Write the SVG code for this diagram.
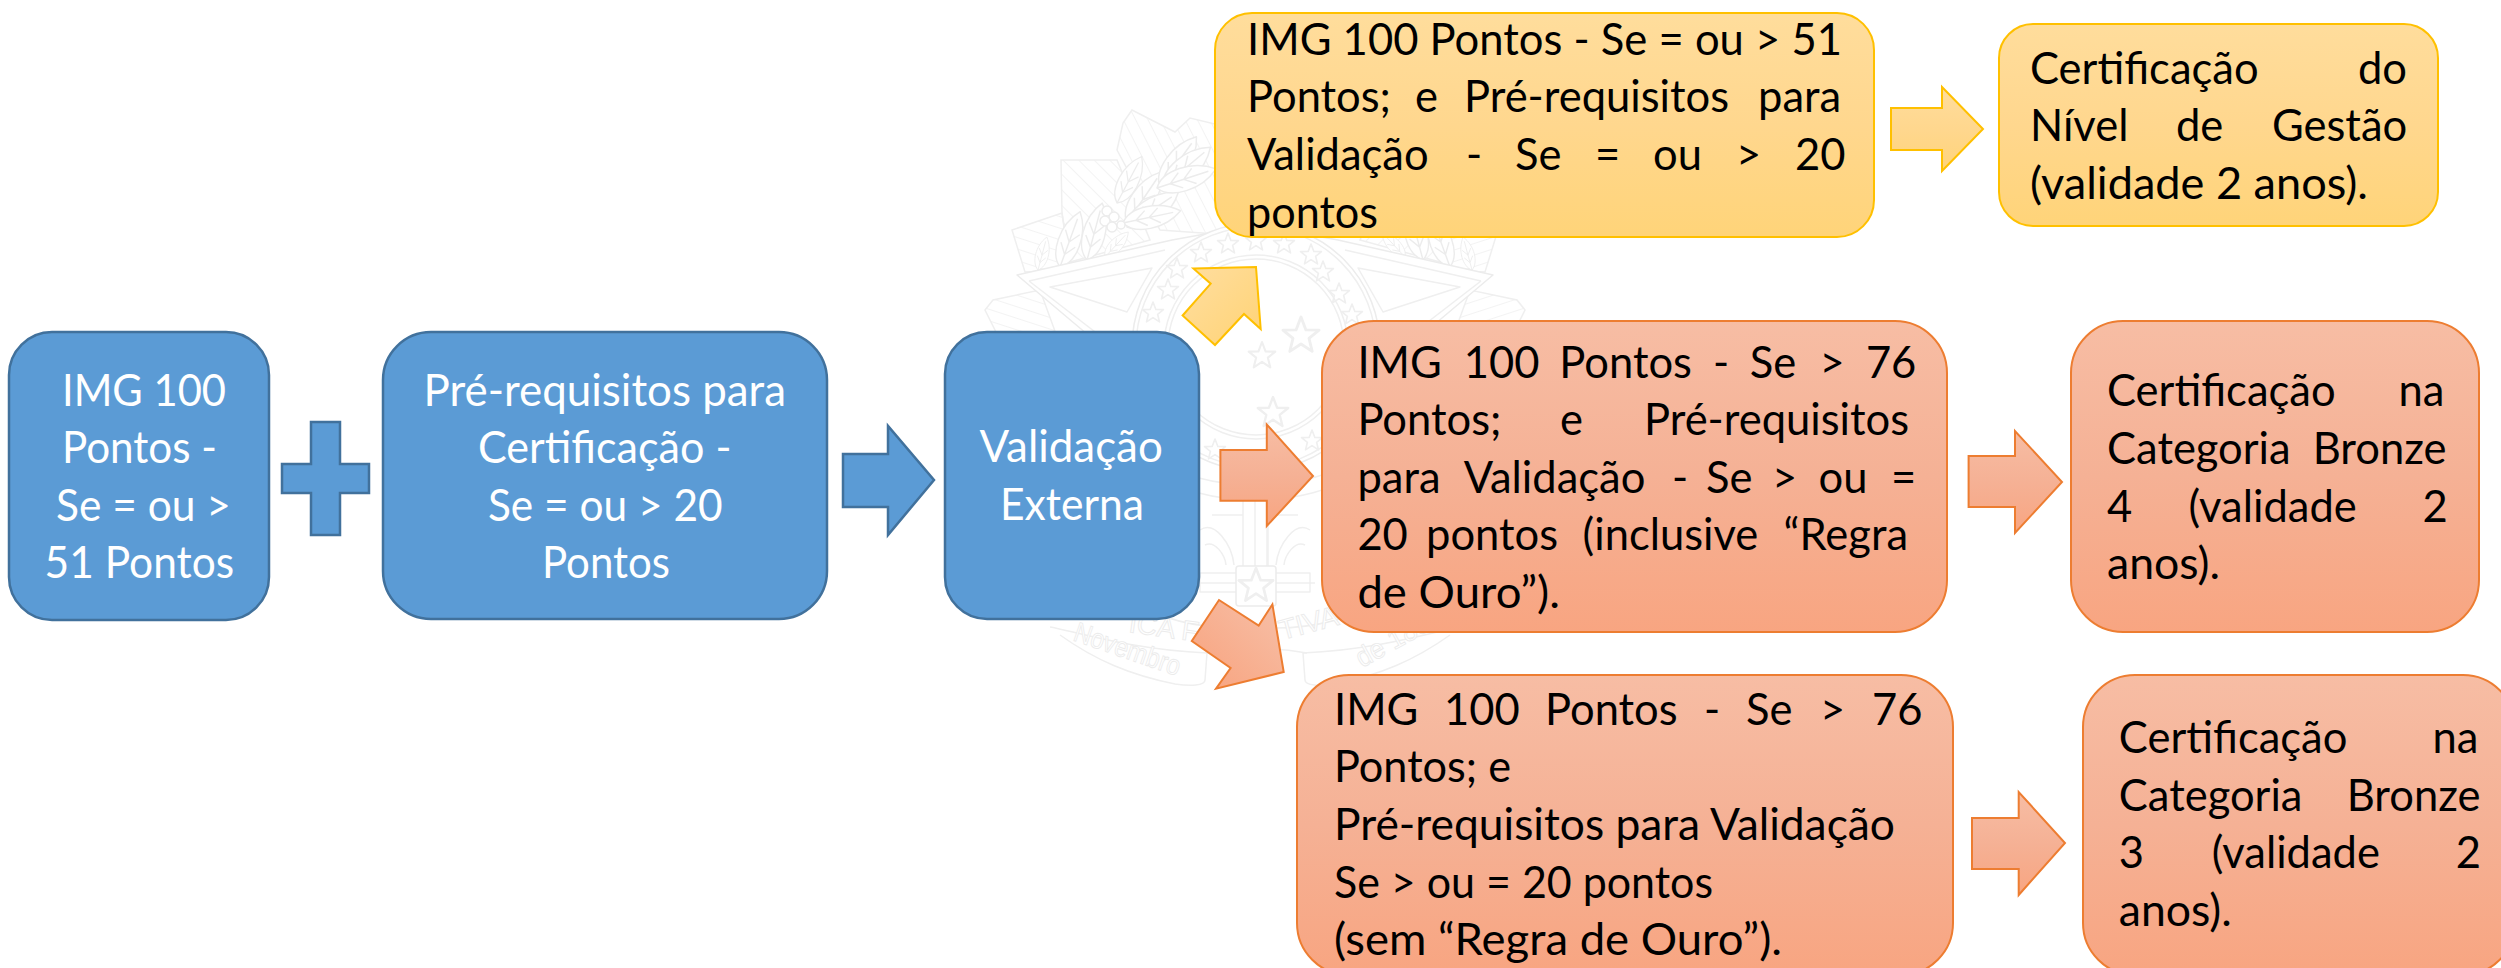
<svg xmlns="http://www.w3.org/2000/svg" xmlns:xlink="http://www.w3.org/1999/xlink" width="2501" height="968" viewBox="0 0 2501 968">
<style>
text{font-family:Lato,"Open Sans","Liberation Sans",sans-serif;font-size:43.5px}
.w{fill:#fff}.k{fill:#000}
.wm{fill:none;stroke:#efefef;stroke-width:1.5;stroke-linejoin:round}
.wmf{fill:#fff;stroke:#ececec;stroke-width:1.5;stroke-linejoin:round}
.wt{fill:#fff;stroke:#ebebeb;stroke-width:.9;font-family:"Liberation Sans",sans-serif;font-size:28px}
.blue{fill:#5B9BD5;stroke:#41719C;stroke-width:2.5}
.yel{fill:url(#gy);stroke:#FFC000;stroke-width:2}
.org{fill:url(#go);stroke:#ED7D31;stroke-width:2}
</style>
<defs>
<linearGradient id="gy" x1="0" y1="0" x2="0" y2="1"><stop offset="0" stop-color="#FFDD9C"/><stop offset=".5" stop-color="#FFD78E"/><stop offset="1" stop-color="#FFD479"/></linearGradient>
<linearGradient id="go" x1="0" y1="0" x2="0" y2="1"><stop offset="0" stop-color="#F7BDA4"/><stop offset=".5" stop-color="#F5B195"/><stop offset="1" stop-color="#F8A581"/></linearGradient>
<linearGradient id="gyd" x1="0.1" y1="0.1" x2="0.9" y2="0.9"><stop offset="0" stop-color="#FFDD9C"/><stop offset="1" stop-color="#FFD479"/></linearGradient>
<linearGradient id="god" x1="0.9" y1="0.1" x2="0.1" y2="0.9"><stop offset="0" stop-color="#F7BDA4"/><stop offset="1" stop-color="#F8A581"/></linearGradient>
<pattern id="h1" width="11" height="11" patternUnits="userSpaceOnUse" patternTransform="rotate(-27)"><path d="M0 0V11" stroke="#efefef" stroke-width="1.5"/></pattern>
<pattern id="h2" width="11" height="11" patternUnits="userSpaceOnUse" patternTransform="rotate(-45)"><path d="M0 0V11" stroke="#efefef" stroke-width="1.5"/></pattern>
<pattern id="h3" width="11" height="11" patternUnits="userSpaceOnUse" patternTransform="rotate(-72)"><path d="M0 0V11" stroke="#efefef" stroke-width="1.5"/></pattern>
<path id="leaf" class="wmf" d="M0 0C10 -15 42 -16 62 0C42 16 10 15 0 0ZM0 0L54 0M14 0L25 -8M14 0L25 8M28 0L39 -8M28 0L39 8"/>
<polygon id="star" class="wm" points="0,-10 2.6,-3.2 9.5,-3.1 4.2,1.2 5.9,8.1 0,4.2 -5.9,8.1 -4.2,1.2 -9.5,-3.1 -2.6,-3.2"/>
<g id="half">
<path fill="url(#h1)" stroke="#efefef" stroke-width="1.5" d="M1132 110L1123 123L1117 150L1160 230L1230 235L1240 130L1190 118L1175 132Z"/>
<path fill="url(#h2)" stroke="#efefef" stroke-width="1.5" d="M1061 160L1117 160L1150 240L1070 262L1062 213Z"/>
<path fill="url(#h3)" stroke="#efefef" stroke-width="1.5" d="M1012 230L1062 213L1070 270L1025 272Z"/>
<path fill="url(#h3)" stroke="#efefef" stroke-width="1.5" d="M985 310L993 300L1040 290L1060 345L1000 340Z"/>
<use xlink:href="#leaf" transform="translate(1038 270) rotate(-75) scale(.55)"/>
<use xlink:href="#leaf" transform="translate(1060 267) rotate(-70) scale(.95)"/>
<use xlink:href="#leaf" transform="translate(1087 260) rotate(-75) scale(.95)"/>
<use xlink:href="#leaf" transform="translate(1105 257) rotate(-47) scale(.55)"/>
<use xlink:href="#leaf" transform="translate(1117 203) rotate(-62) scale(.85)"/>
<use xlink:href="#leaf" transform="translate(1127 223) rotate(-56) scale(1)"/>
<use xlink:href="#leaf" transform="translate(1127 227) rotate(-34) scale(1)"/>
<use xlink:href="#leaf" transform="translate(1123 223) rotate(-12) scale(.95)"/>
<use xlink:href="#leaf" transform="translate(1160 187) rotate(-54) scale(1)"/>
<use xlink:href="#leaf" transform="translate(1163 187) rotate(-40) scale(1)"/>
<use xlink:href="#leaf" transform="translate(1157 188) rotate(-18) scale(1)"/>
<circle class="wmf" cx="1107" cy="211" r="5"/><circle class="wmf" cx="1114" cy="217" r="5"/><circle class="wmf" cx="1105" cy="221" r="5"/><circle class="wmf" cx="1112" cy="227" r="5"/><circle class="wmf" cx="1121" cy="225" r="4"/>
<path class="wmf" d="M1017 275L1172 240L1255 225L1255 345L1100 345Z"/>
<path class="wm" d="M1029 281L1165 250M1029 281L1112 345"/>
<path class="wm" d="M1050 287L1152 268L1127 312Z"/>
<path class="wm" d="M1150 600C1090 590 1030 565 1000 530M1207 653C1130 650 1070 630 1050 627M1207 653L1205 680C1205 686 1190 686 1175 684C1130 675 1095 660 1060 635"/>
<path class="wm" d="M1243 475V566M1236 573H1200V592H1236M1236 583H1195"/>
<path class="wm" d="M1200 530C1215 520 1232 545 1234 565M1205 545C1215 540 1225 555 1226 565M1212 515L1243 515"/>
</g>
</defs>
<rect width="2501" height="968" fill="#fff"/>
<g id="watermark">
<use xlink:href="#half"/>
<use xlink:href="#half" transform="translate(2510 0) scale(-1 1)"/>
<circle class="wmf" cx="1256" cy="347" r="124"/>
<circle class="wm" cx="1256" cy="347" r="120"/>
<circle class="wm" cx="1256" cy="347" r="92"/>
<circle class="wm" cx="1256" cy="347" r="88"/>
<path class="wm" d="M1150 455C1200 495 1310 495 1362 455M1150 470C1200 510 1310 510 1362 470"/>
<g>
<use xlink:href="#star" transform="translate(1256 241) scale(1.1)"/>
<use xlink:href="#star" transform="translate(1228 244) scale(1.1)"/>
<use xlink:href="#star" transform="translate(1201 253) scale(1.1)"/>
<use xlink:href="#star" transform="translate(1177 269) scale(1.1)"/>
<use xlink:href="#star" transform="translate(1168 290) scale(1.1)"/>
<use xlink:href="#star" transform="translate(1153 313) scale(1.1)"/>
<use xlink:href="#star" transform="translate(1284 244) scale(1.1)"/>
<use xlink:href="#star" transform="translate(1311 255) scale(1.1)"/>
<use xlink:href="#star" transform="translate(1323 272) scale(1.1)"/>
<use xlink:href="#star" transform="translate(1339 294) scale(1.1)"/>
<use xlink:href="#star" transform="translate(1352 315) scale(1.1)"/>
<use xlink:href="#star" transform="translate(1215 450) scale(1.1)"/>
<use xlink:href="#star" transform="translate(1312 441) scale(1.1)"/>
<use xlink:href="#star" transform="translate(1262 356) scale(1.4)"/>
<use xlink:href="#star" transform="translate(1301 336) scale(1.9)"/>
<use xlink:href="#star" transform="translate(1273 413) scale(1.6)"/>
</g>
<path class="wm" d="M1255 475V566M1268 475V566"/>
<rect class="wmf" x="1236" y="566" width="40" height="40" rx="3"/>
<use xlink:href="#star" transform="translate(1256 586) scale(1.8)"/>
<path class="wm" d="M1207 653C1240 647 1275 647 1307 653M1130 600C1170 625 1210 628 1236 628M1382 600C1340 625 1300 628 1276 628"/>
<text class="wt" transform="translate(1072 640) rotate(19)" textLength="111" lengthAdjust="spacingAndGlyphs">Novembro</text>
<text class="wt" transform="translate(1362 668) rotate(-29)" textLength="95" lengthAdjust="spacingAndGlyphs">de 1889</text>
<text class="wt" transform="translate(1128 632) rotate(8)">ICA F</text>
<text class="wt" transform="translate(1282 640) rotate(-15)">TIVA D</text>
</g>
<g id="connectors">
<path id="plus" class="blue" d="M311 422H340V464H369V493H340V535H311V493H282V464H311Z"/>
<path id="arrow-blue" class="blue" d="M843 454H888V426L934 480L888 535V507H843Z"/>
<path id="arrow-up" fill="url(#gyd)" stroke="#FFC000" stroke-width="2" d="M1193.4 268.4L1256 267L1260.7 329L1244 314L1215 345L1182.6 315.5L1210.7 283.7Z"/>
<path id="arrow-mid" class="org" d="M1220.4 450H1266.8V424.5L1313 476L1266.8 526V500.7H1220.4Z"/>
<path id="arrow-down" fill="url(#god)" stroke="#ED7D31" stroke-width="2" d="M1219 600L1258.7 625.5L1272.4 604.4L1283.7 672L1216 688.6L1230.6 668L1191.8 641Z"/>
<path id="arrow-yellow" class="yel" d="M1891 108H1942V87L1983 129L1942 171V150H1891Z"/>
<path id="arrow-bronze4" class="org" d="M1968.6 456H2015V431L2062 482L2015 533V507H1968.6Z"/>
<path id="arrow-bronze3" class="org" d="M1972 818H2018.7V792L2065 843L2018.7 895V869H1972Z"/>
</g>
<g id="node-img">
<rect class="blue" x="9" y="332" width="260" height="288" rx="43"/>
<text class="w"><tspan x="62" y="405.5" textLength="164" lengthAdjust="spacingAndGlyphs">IMG 100</tspan></text>
<text class="w"><tspan x="62" y="463" textLength="155" lengthAdjust="spacingAndGlyphs">Pontos -</tspan></text>
<text class="w"><tspan x="56" y="520.5" textLength="175" lengthAdjust="spacingAndGlyphs">Se = ou &gt;</tspan></text>
<text class="w"><tspan x="44.6" y="578" textLength="189.5" lengthAdjust="spacingAndGlyphs">51 Pontos</tspan></text>
</g>
<g id="node-prereq">
<rect class="blue" x="383" y="332" width="444" height="287" rx="48"/>
<text class="w"><tspan x="423.5" y="405.5" textLength="362.5" lengthAdjust="spacingAndGlyphs">Pré-requisitos para</tspan></text>
<text class="w"><tspan x="478" y="463" textLength="253.5" lengthAdjust="spacingAndGlyphs">Certificação -</tspan></text>
<text class="w"><tspan x="488" y="520.5" textLength="234.6" lengthAdjust="spacingAndGlyphs">Se = ou &gt; 20</tspan></text>
<text class="w"><tspan x="542" y="578" textLength="128" lengthAdjust="spacingAndGlyphs">Pontos</tspan></text>
</g>
<g id="node-validacao">
<rect class="blue" x="945" y="332" width="254" height="287" rx="42"/>
<text class="w"><tspan x="979.6" y="462.4" textLength="183.2" lengthAdjust="spacingAndGlyphs">Validação</tspan></text>
<text class="w"><tspan x="1000" y="520" textLength="144" lengthAdjust="spacingAndGlyphs">Externa</tspan></text>
</g>
<g id="node-gestao">
<rect class="yel" x="1215" y="13" width="659" height="224" rx="37"/>
<text class="k"><tspan x="1247" y="54.5" textLength="595" lengthAdjust="spacingAndGlyphs">IMG 100 Pontos - Se = ou &gt; 51</tspan></text>
<text class="k" y="112"><tspan x="1247">Pontos; </tspan><tspan x="1415">e </tspan><tspan x="1464">Pré-requisitos </tspan><tspan x="1758">para</tspan></text>
<text class="k" y="170"><tspan x="1247">Validação </tspan><tspan x="1466">- </tspan><tspan x="1515">Se </tspan><tspan x="1595">= </tspan><tspan x="1653">ou </tspan><tspan x="1736">&gt; </tspan><tspan x="1795">20</tspan></text>
<text class="k"><tspan x="1247" y="227.5" textLength="131" lengthAdjust="spacingAndGlyphs">pontos</tspan></text>
</g>
<g id="node-cert-gestao">
<rect class="yel" x="1999" y="24" width="439" height="202" rx="34"/>
<text class="k" y="83.5"><tspan x="2030">Certificação </tspan><tspan x="2358">do</tspan></text>
<text class="k" y="141"><tspan x="2030">Nível </tspan><tspan x="2176">de </tspan><tspan x="2272">Gestão</tspan></text>
<text class="k"><tspan x="2030" y="198.5" textLength="338" lengthAdjust="spacingAndGlyphs">(validade 2 anos).</tspan></text>
</g>
<g id="node-bronze4-req">
<rect class="org" x="1322" y="321" width="625" height="311" rx="52"/>
<text class="k" y="377.7"><tspan x="1357.4">IMG </tspan><tspan x="1463.7">100 </tspan><tspan x="1559.3">Pontos </tspan><tspan x="1713">- </tspan><tspan x="1749.7">Se </tspan><tspan x="1819.4">&gt; </tspan><tspan x="1865.9">76</tspan></text>
<text class="k" y="435"><tspan x="1357.4">Pontos; </tspan><tspan x="1560">e </tspan><tspan x="1644">Pré-requisitos</tspan></text>
<text class="k" y="492.7"><tspan x="1357.4">para </tspan><tspan x="1463.7">Validação </tspan><tspan x="1672">- </tspan><tspan x="1706">Se </tspan><tspan x="1772">&gt; </tspan><tspan x="1818.5">ou </tspan><tspan x="1891">=</tspan></text>
<text class="k" y="550"><tspan x="1357.4">20 </tspan><tspan x="1426">pontos </tspan><tspan x="1582.6">(inclusive </tspan><tspan x="1783.6">“Regra</tspan></text>
<text class="k"><tspan x="1357.4" y="607.7" textLength="202.6" lengthAdjust="spacingAndGlyphs">de Ouro”).</tspan></text>
</g>
<g id="node-bronze4">
<rect class="org" x="2071" y="321" width="408" height="311" rx="52"/>
<text class="k" y="406"><tspan x="2107">Certificação </tspan><tspan x="2398.5">na</tspan></text>
<text class="k" y="464"><tspan x="2107">Categoria </tspan><tspan x="2312.7">Bronze</tspan></text>
<text class="k" y="521.5"><tspan x="2107">4 </tspan><tspan x="2188.5">(validade </tspan><tspan x="2422.6">2</tspan></text>
<text class="k"><tspan x="2107" y="578.7" textLength="113" lengthAdjust="spacingAndGlyphs">anos).</tspan></text>
</g>
<g id="node-bronze3-req">
<rect class="org" x="1297" y="675" width="656" height="300" rx="52"/>
<text class="k" y="724.7"><tspan x="1334">IMG </tspan><tspan x="1444">100 </tspan><tspan x="1545">Pontos </tspan><tspan x="1704">- </tspan><tspan x="1746">Se </tspan><tspan x="1820">&gt; </tspan><tspan x="1872">76</tspan></text>
<text class="k"><tspan x="1334" y="782" textLength="177" lengthAdjust="spacingAndGlyphs">Pontos; e</tspan></text>
<text class="k"><tspan x="1334" y="840" textLength="561" lengthAdjust="spacingAndGlyphs">Pré-requisitos para Validação</tspan></text>
<text class="k"><tspan x="1334" y="897.5" textLength="379" lengthAdjust="spacingAndGlyphs">Se &gt; ou = 20 pontos</tspan></text>
<text class="k"><tspan x="1334" y="955" textLength="448" lengthAdjust="spacingAndGlyphs">(sem “Regra de Ouro”).</tspan></text>
</g>
<g id="node-bronze3">
<rect class="org" x="2083" y="675" width="432" height="300" rx="52"/>
<text class="k" y="753.3"><tspan x="2118.8">Certificação </tspan><tspan x="2432.4">na</tspan></text>
<text class="k" y="811"><tspan x="2118.8">Categoria </tspan><tspan x="2346.7">Bronze</tspan></text>
<text class="k" y="868"><tspan x="2118.8">3 </tspan><tspan x="2211.7">(validade </tspan><tspan x="2455.7">2</tspan></text>
<text class="k"><tspan x="2118.8" y="926" textLength="113" lengthAdjust="spacingAndGlyphs">anos).</tspan></text>
</g>
</svg>
